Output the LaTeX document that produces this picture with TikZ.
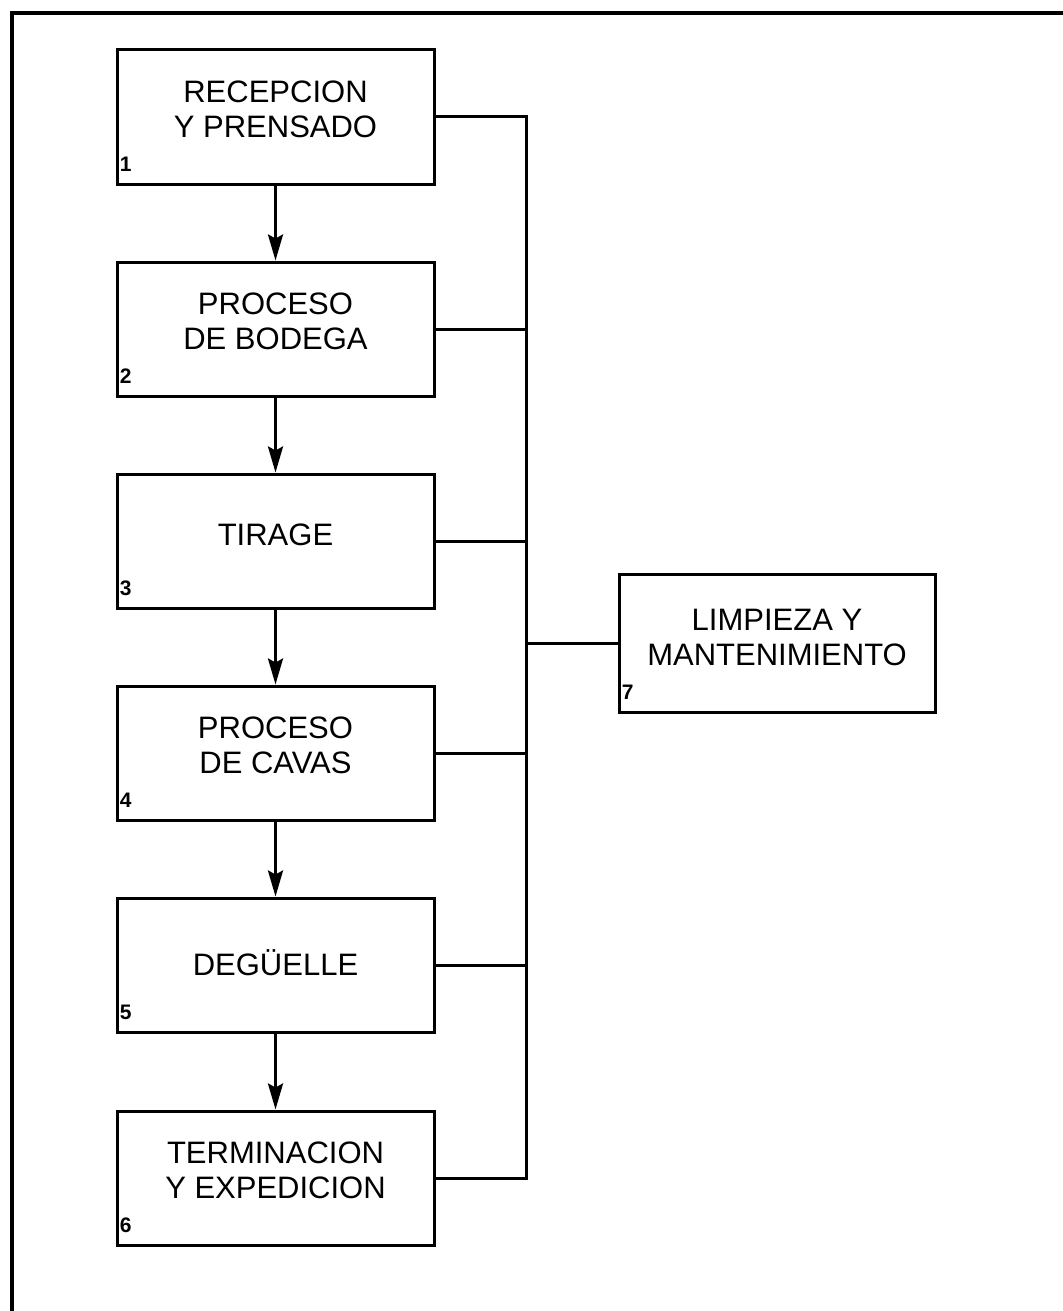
\documentclass[tikz,border=0pt]{standalone}
\usepackage{fontspec}
\setmainfont{Liberation Sans}
\usetikzlibrary{arrows.meta}
\tikzset{
  stepbox/.style={draw, line width=1.5pt, minimum width=158.5pt, minimum height=67pt, inner sep=0pt},
  sidebox/.style={draw, line width=1.5pt, minimum width=158pt, minimum height=69pt, inner sep=0pt},
  boxtext/.style={align=center, font=\fontsize{15.5pt}{17.5pt}\selectfont, inner sep=0pt},
  numlbl/.style={anchor=base west, font=\fontsize{10.5pt}{11pt}\selectfont\bfseries, inner sep=0pt},
  flow/.style={line width=1.5pt, -{Stealth[length=13pt, width=7.5pt, inset=2pt]}},
  conn/.style={line width=1.5pt},
  frame/.style={line width=2pt}
}
\begin{document}
\begin{tikzpicture}[x=0.5pt, y=-0.5pt]
\useasboundingbox (0,0) rectangle (1063,1311);
% outer frame (open to the right and bottom)
\coordinate (fr1) at (1070,13);
\coordinate (fr2) at (12,13);
\coordinate (fr3) at (12,1320);
\draw[frame] (fr1) -- (fr2) -- (fr3);

% process boxes
\node[stepbox] (b1) at (275.5,117) {};
\node[stepbox] (b2) at (275.5,329) {};
\node[stepbox] (b3) at (275.5,541) {};
\node[stepbox] (b4) at (275.5,753) {};
\node[stepbox] (b5) at (275.5,965) {};
\node[stepbox] (b6) at (275.5,1178) {};
\node[sidebox] (b7) at (777,643) {};

% box texts
\node[boxtext] (t1) at ([yshift=4pt]b1.center) {RECEPCION\\Y PRENSADO};
\node[boxtext] (t2) at ([yshift=4pt]b2.center) {PROCESO\\DE BODEGA};
\node[boxtext] (t3) at ([yshift=3pt]b3.center) {TIRAGE};
\node[boxtext] (t4) at ([yshift=4pt]b4.center) {PROCESO\\DE CAVAS};
\node[boxtext] (t5) at ([yshift=1pt]b5.center) {DEGÜELLE};
\node[boxtext] (t6) at ([yshift=4pt]b6.center) {TERMINACION\\Y EXPEDICION};
\node[boxtext] (t7) at ([yshift=3pt]b7.center) {LIMPIEZA Y\\MANTENIMIENTO};

% numbers
\node[numlbl] (n1) at ([xshift=2pt,yshift=7pt]b1.south west) {1};
\node[numlbl] (n2) at ([xshift=2pt,yshift=7pt]b2.south west) {2};
\node[numlbl] (n3) at ([xshift=2pt,yshift=7pt]b3.south west) {3};
\node[numlbl] (n4) at ([xshift=2pt,yshift=7pt]b4.south west) {4};
\node[numlbl] (n5) at ([xshift=2pt,yshift=7pt]b5.south west) {5};
\node[numlbl] (n6) at ([xshift=2pt,yshift=7pt]b6.south west) {6};
\node[numlbl] (n7) at ([xshift=2pt,yshift=7pt]b7.south west) {7};

% flow arrows
\draw[flow] (b1.south) -- (b2.north);
\draw[flow] (b2.south) -- (b3.north);
\draw[flow] (b3.south) -- (b4.north);
\draw[flow] (b4.south) -- (b5.north);
\draw[flow] (b5.south) -- (b6.north);

% bus to cleaning box
\coordinate (busx) at (526,0);
\draw[conn] (b1.east) -- (b1.east -| busx) -- (b6.east -| busx) -- (b6.east);
\draw[conn] (b2.east) -- (b2.east -| busx);
\draw[conn] (b3.east) -- (b3.east -| busx);
\draw[conn] (b4.east) -- (b4.east -| busx);
\draw[conn] (b5.east) -- (b5.east -| busx);
\draw[conn] (b7.west) -- (b7.west -| busx);
\end{tikzpicture}
\end{document}
